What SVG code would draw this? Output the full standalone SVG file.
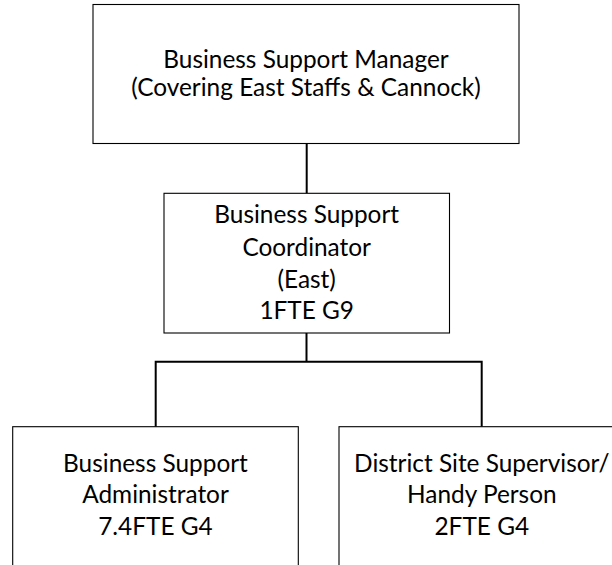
<svg xmlns="http://www.w3.org/2000/svg" width="612" height="565" viewBox="0 0 612 565">
<style>
.box{fill:#fff;stroke:#000;stroke-width:1.1}
.conn{fill:none;stroke:#000;stroke-width:2}
text{font-family:Lato,"Liberation Sans",sans-serif;font-size:24.4px;fill:#000;text-anchor:middle}
</style>
<rect width="612" height="565" fill="#fff"/>
<g id="connectors">
<line class="conn" x1="306.7" y1="143.5" x2="306.7" y2="193.3"/>
<polyline class="conn" points="306.5,333 306.5,361.7"/>
<polyline class="conn" points="155.7,426.7 155.7,361.7 481.7,361.7 481.7,426.7"/>
</g>
<g id="manager">
<rect class="box" x="93" y="4.5" width="426" height="139"/>
<text x="306" y="68">Business Support Manager</text>
<text x="306" y="96">(Covering East Staffs &amp; Cannock)</text>
</g>
<g id="coordinator">
<rect class="box" x="164" y="193.3" width="285.5" height="139.7"/>
<text x="306.7" y="223">Business Support</text>
<text x="306.7" y="255.5">Coordinator</text>
<text x="306.7" y="287.5">(East)</text>
<text x="306.7" y="318.5">1FTE G9</text>
</g>
<g id="administrator">
<rect class="box" x="12.7" y="426.7" width="285.6" height="150"/>
<text x="155.5" y="471.5">Business Support</text>
<text x="155.5" y="503">Administrator</text>
<text x="155.5" y="535">7.4FTE G4</text>
</g>
<g id="supervisor">
<rect class="box" x="339" y="426.7" width="285.6" height="150"/>
<text x="481.8" y="471.5">District Site Supervisor/</text>
<text x="481.8" y="503">Handy Person</text>
<text x="481.8" y="535">2FTE G4</text>
</g>
</svg>
